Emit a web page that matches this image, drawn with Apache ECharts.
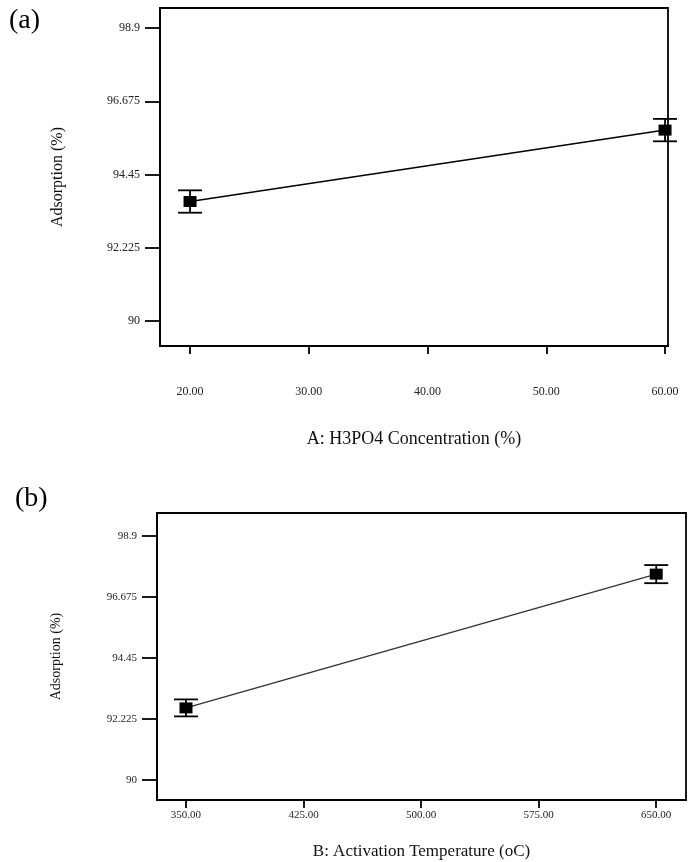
<!DOCTYPE html>
<html>
<head>
<meta charset="utf-8">
<script src="https://cdn.jsdelivr.net/npm/echarts@6/dist/echarts.min.js"></script>
<style>
  html, body { margin: 0; padding: 0; background: #fff; }
  #chart { width: 690px; height: 862px; }
</style>
</head>
<body>
<div id="chart"></div>
<script>
// Panel (a): H3PO4 concentration effect
const concLevels = [20, 60];
const concMeans = [93.63, 95.80];
const concErr = [0.34, 0.34];
const concTicks = [20, 30, 40, 50, 60];

// Panel (b): activation temperature effect
const tempLevels = [350, 650];
const tempMeans = [92.63, 97.51];
const tempErr = [0.31, 0.33];
const tempTicks = [350, 425, 500, 575, 650];

// Shared response axis ticks
const adsTicks = [90, 92.225, 94.45, 96.675, 98.9];

const FONT = '"Liberation Serif", "Times New Roman", serif';
const chart = echarts.init(document.getElementById('chart'), null, { renderer: 'canvas' });

function pairs(xs, ys) { return xs.map((x, i) => [x, ys[i]]); }
function errData(xs, ys, es) { return xs.map((x, i) => [x, ys[i] - es[i], ys[i] + es[i]]); }

function errorSeries(idx, xs, ys, es) {
  return {
    type: 'custom', xAxisIndex: idx, yAxisIndex: idx, z: 3,
    data: errData(xs, ys, es),
    renderItem: function (params, api) {
      const lo = api.coord([api.value(0), api.value(1)]);
      const hi = api.coord([api.value(0), api.value(2)]);
      const hw = 12;
      const style = { stroke: '#000', lineWidth: 1.8 };
      return {
        type: 'group',
        children: [
          { type: 'line', shape: { x1: hi[0], y1: hi[1], x2: lo[0], y2: lo[1] }, style },
          { type: 'line', shape: { x1: hi[0] - hw, y1: hi[1], x2: hi[0] + hw, y2: hi[1] }, style },
          { type: 'line', shape: { x1: lo[0] - hw, y1: lo[1], x2: lo[0] + hw, y2: lo[1] }, style }
        ]
      };
    }
  };
}

function xAxisCfg(idx, min, max, ticks, name, labelMargin, nameGap, nameSize, labelSize) {
  return {
    type: 'value', gridIndex: idx, min: min, max: max,
    name: name, nameLocation: 'middle', nameGap: nameGap,
    nameTextStyle: { fontFamily: FONT, fontSize: nameSize, color: '#111' },
    axisLine: { show: true, lineStyle: { color: '#000', width: 1.8 } },
    axisTick: { show: true, inside: false, length: 8, customValues: ticks, lineStyle: { color: '#000', width: 1.8 } },
    axisLabel: { customValues: ticks, margin: labelMargin, fontFamily: FONT, fontSize: labelSize, color: '#222',
      formatter: v => v.toFixed(2) },
    splitLine: { show: false }
  };
}

function yAxisCfg(idx, min, max, nameGap, nameSize, labelSize) {
  return {
    type: 'value', gridIndex: idx, min: min, max: max,
    name: 'Adsorption (%)', nameLocation: 'middle', nameGap: nameGap, nameRotate: 90,
    nameTextStyle: { fontFamily: FONT, fontSize: nameSize, color: '#111' },
    axisLine: { show: true, lineStyle: { color: '#000', width: 1.8 } },
    axisTick: { show: true, inside: false, length: 15, customValues: adsTicks, lineStyle: { color: '#000', width: 1.8 } },
    axisLabel: { customValues: adsTicks, margin: 20, fontFamily: FONT, fontSize: labelSize, color: '#222',
      formatter: v => String(v) },
    splitLine: { show: false }
  };
}

const option = {
  animation: false,
  backgroundColor: '#fff',
  title: [
    { text: '(a)', left: 4, top: 2, textStyle: { fontFamily: FONT, fontSize: 28, fontWeight: 'normal', color: '#000' } },
    { text: '(b)', left: 10, top: 480, textStyle: { fontFamily: FONT, fontSize: 28, fontWeight: 'normal', color: '#000' } }
  ],
  grid: [
    { left: 160, top: 8, width: 508, height: 338, show: true, borderColor: '#000', borderWidth: 1.8, backgroundColor: '#fff' },
    { left: 157, top: 513, width: 529, height: 287, show: true, borderColor: '#000', borderWidth: 1.8, backgroundColor: '#fff' }
  ],
  xAxis: [
    xAxisCfg(0, 17.47, 60.25, concTicks, 'A: H3PO4 Concentration (%)', 40, 84, 18, 12),
    xAxisCfg(1, 331.5, 669, tempTicks, 'B: Activation Temperature (oC)', 10, 43, 17, 11)
  ],
  yAxis: [
    yAxisCfg(0, 89.24, 99.51, 94, 16, 12),
    yAxisCfg(1, 89.27, 99.74, 94, 14, 11)
  ],
  series: [
    { type: 'line', xAxisIndex: 0, yAxisIndex: 0, data: pairs(concLevels, concMeans), z: 2,
      symbol: 'none', lineStyle: { color: '#000', width: 1.5 } },
    errorSeries(0, concLevels, concMeans, concErr),
    { type: 'scatter', xAxisIndex: 0, yAxisIndex: 0, data: pairs(concLevels, concMeans), z: 4,
      symbol: 'rect', symbolSize: [13, 11], itemStyle: { color: '#000', opacity: 1 } },
    { type: 'line', xAxisIndex: 1, yAxisIndex: 1, data: pairs(tempLevels, tempMeans), z: 2,
      symbol: 'none', lineStyle: { color: '#333', width: 1.5 } },
    errorSeries(1, tempLevels, tempMeans, tempErr),
    { type: 'scatter', xAxisIndex: 1, yAxisIndex: 1, data: pairs(tempLevels, tempMeans), z: 4,
      symbol: 'rect', symbolSize: [13, 11], itemStyle: { color: '#000', opacity: 1 } }
  ]
};
chart.setOption(option);
</script>
</body>
</html>
